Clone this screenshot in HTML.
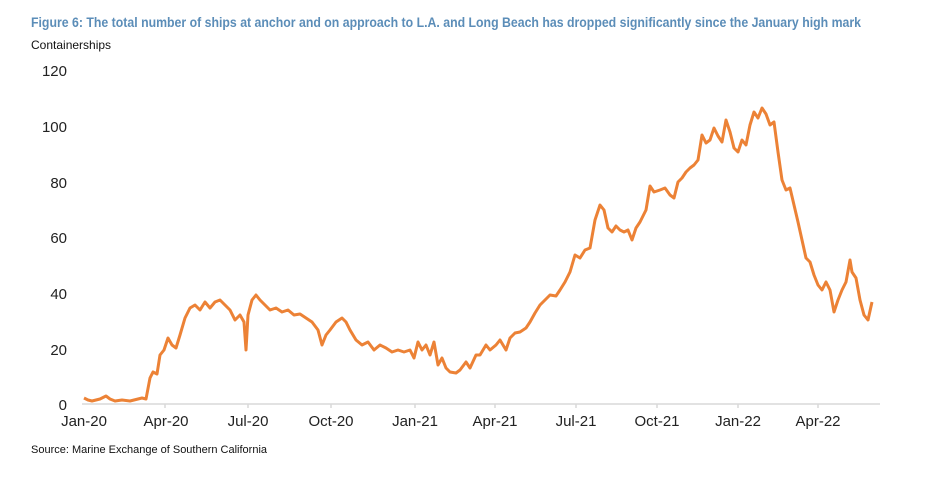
<!DOCTYPE html>
<html><head><meta charset="utf-8"><style>
body{margin:0;background:#fff;width:925px;height:479px;overflow:hidden;font-family:"Liberation Sans",Arial,sans-serif}
</style></head><body>
<svg width="925" height="479" xmlns="http://www.w3.org/2000/svg" font-family="Liberation Sans, Arial, sans-serif">
<text x="31" y="27" font-size="14" font-weight="bold" fill="#5b8db8" textLength="830" lengthAdjust="spacingAndGlyphs">Figure 6: The total number of ships at anchor and on approach to L.A. and Long Beach has dropped significantly since the January high mark</text>
<text x="31" y="49" font-size="12" fill="#111">Containerships</text>
<g font-size="15" fill="#222" text-anchor="end">
<text x="67" y="76">120</text><text x="67" y="132">100</text><text x="67" y="188">80</text>
<text x="67" y="243">60</text><text x="67" y="299">40</text><text x="67" y="355">20</text><text x="67" y="410">0</text>
</g>
<line x1="82" y1="404" x2="880" y2="404" stroke="#d9d9d9" stroke-width="1.5"/>
<g stroke="#d9d9d9" stroke-width="1.5">
<line x1="165" y1="404" x2="165" y2="408"/><line x1="248" y1="404" x2="248" y2="408"/><line x1="331" y1="404" x2="331" y2="408"/><line x1="415" y1="404" x2="415" y2="408"/><line x1="495" y1="404" x2="495" y2="408"/><line x1="576" y1="404" x2="576" y2="408"/><line x1="657" y1="404" x2="657" y2="408"/><line x1="738" y1="404" x2="738" y2="408"/><line x1="818" y1="404" x2="818" y2="408"/>
</g>
<g font-size="15" fill="#222" text-anchor="middle">
<text x="84" y="426">Jan-20</text><text x="166" y="426">Apr-20</text><text x="248" y="426">Jul-20</text><text x="331" y="426">Oct-20</text><text x="415" y="426">Jan-21</text><text x="495" y="426">Apr-21</text><text x="576" y="426">Jul-21</text><text x="657" y="426">Oct-21</text><text x="738" y="426">Jan-22</text><text x="818" y="426">Apr-22</text>
</g>
<text x="31" y="453" font-size="11" fill="#111">Source: Marine Exchange of Southern California</text>
<polyline fill="none" stroke="#ec8236" stroke-width="3" stroke-linejoin="round" points="84,398 88,400 92,401 100,399 106,396 110,399 115,401 122,400 130,401 138,399 142,398 146,399 150,378 153,372 157,374 160,355 164,350 168,338 172,345 176,348 180,335 185,318 190,308 195,305 200,310 205,302 210,308 215,302 220,300 225,305 230,310 235,320 240,315 244,322 246,350 248,315 252,300 256,295 260,300 265,305 270,310 276,308 282,312 288,310 294,315 300,314 306,318 312,322 318,330 322,345 326,335 330,330 336,322 342,318 346,322 350,330 356,340 362,345 368,342 374,350 380,345 386,348 392,352 398,350 404,352 410,350 414,358 418,342 422,350 426,345 430,355 434,342 438,365 442,358 446,368 450,372 456,373 460,370 466,362 470,368 476,355 480,355 486,345 490,350 496,345 500,340 506,350 510,338 515,333 520,332 526,328 530,322 535,313 540,305 545,300 550,295 556,296 560,290 565,282 570,272 575,255 580,258 585,250 590,248 595,220 600,205 604,210 608,228 612,232 616,226 620,230 624,232 628,230 632,240 636,228 640,222 646,210 650,186 654,192 660,190 665,188 670,195 674,198 678,182 682,178 686,172 690,168 694,165 698,160 702,135 706,143 710,140 714,128 718,136 722,142 726,120 730,132 734,148 738,152 742,140 746,145 750,125 754,112 758,118 762,108 766,114 770,125 774,122 778,152 782,180 786,190 790,188 794,205 798,222 802,240 806,258 810,262 814,275 818,285 822,290 826,282 830,290 834,312 838,300 842,290 846,282 850,260 852,272 856,278 860,300 864,315 868,320 872,302"/>
</svg>
</body></html>
